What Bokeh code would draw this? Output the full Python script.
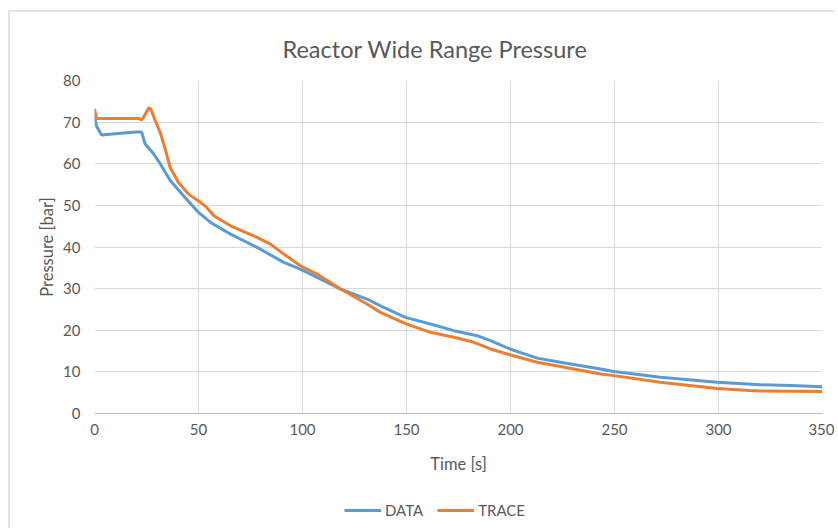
from bokeh.plotting import figure
from bokeh.layouts import column
from bokeh.models import Range1d, Legend, LegendItem, FixedTicker, Title
from bokeh.embed import file_html
from bokeh.resources import INLINE

# DATA series (time [s], pressure [bar])
data_t = [0, 1, 3.4, 10, 20, 22.7, 24.3, 28.4, 31.6, 36.4, 42.8, 50, 55.8, 65.4,
          78.2, 91, 99, 110.2, 118.3, 131, 139, 149.5, 161.5, 172.8, 184, 190.4,
          199.7, 212.8, 224, 243.3, 249.7, 272, 299.4, 320.2, 334.6, 350]
data_p = [71.5, 69.0, 66.9, 67.2, 67.6, 67.6, 64.8, 62.4, 60.0, 56.0, 52.3, 48.3,
          45.9, 43.1, 39.9, 36.3, 34.7, 31.9, 29.9, 27.5, 25.5, 23.1, 21.5, 19.9,
          18.7, 17.5, 15.5, 13.3, 12.3, 10.7, 10.1, 8.7, 7.5, 6.9, 6.7, 6.4]

# TRACE series
trace_t = [0, 1, 10, 21.2, 22.7, 24, 26, 27, 29.2, 31.6, 34, 36.4, 40.4, 45.2,
           51.6, 54, 57.4, 65.4, 78.2, 84.6, 91, 99, 107, 118.3, 131, 137.5,
           149.5, 161.5, 172.8, 182.4, 190.4, 199.7, 212.8, 224, 243.3, 249.7,
           272, 299.4, 315, 320, 350]
trace_p = [73.2, 70.9, 70.9, 70.9, 70.5, 71.5, 73.4, 73.2, 70.4, 67.5, 63.5, 59.1,
           55.5, 52.7, 50.5, 49.5, 47.5, 45.1, 42.3, 40.7, 38.3, 35.5, 33.5, 29.9,
           26.3, 24.3, 21.6, 19.5, 18.3, 17.1, 15.5, 14.1, 12.3, 11.3, 9.5, 9.1,
           7.5, 6.0, 5.5, 5.4, 5.3]

series_names = ["DATA", "TRACE"]
series_colors = ["#5B9BD5", "#ED7D31"]

x_ticks = [0, 50, 100, 150, 200, 250, 300, 350]
y_ticks = [0, 10, 20, 30, 40, 50, 60, 70, 80]

FONT = "Lato"
GREY = "#595959"

p = figure(frame_width=728, frame_height=333, output_backend="svg",
           toolbar_location=None,
           x_range=Range1d(0, 350), y_range=Range1d(0, 80),
           min_border_left=84, min_border_right=12, min_border_top=68,
           min_border_bottom=75)

p.title = Title(text="Reactor Wide Range Pressure", align="left",
                text_font=FONT, text_font_size="23.5px", text_font_style="normal",
                text_color=GREY, offset=188, standoff=36)

p.outline_line_color = None
p.background_fill_color = "white"
p.border_fill_color = "white"

for ax in (p.xaxis[0], p.yaxis[0]):
    ax.major_tick_line_color = None
    ax.minor_tick_line_color = None
    ax.major_tick_out = 0
    ax.major_tick_in = 0
    ax.major_label_text_font = FONT
    ax.major_label_text_font_size = "15px"
    ax.major_label_text_color = GREY
    ax.axis_label_text_font = FONT
    ax.axis_label_text_font_size = "16.5px"
    ax.axis_label_text_font_style = "normal"
    ax.axis_label_text_color = GREY

p.xaxis.ticker = FixedTicker(ticks=x_ticks)
p.yaxis.ticker = FixedTicker(ticks=y_ticks)
p.xaxis.axis_label = "Time [s]"
p.yaxis.axis_label = "Pressure [bar]"
p.xaxis.axis_line_color = "#bfbfbf"
p.yaxis.axis_line_color = None
p.xaxis.major_label_standoff = 10
p.xaxis.axis_label_standoff = 16
p.yaxis.major_label_standoff = 14
p.yaxis.axis_label_standoff = 3

p.xgrid.ticker = FixedTicker(ticks=x_ticks)
p.ygrid.ticker = FixedTicker(ticks=y_ticks)
p.grid.grid_line_color = "#d9d9d9"
p.grid.grid_line_width = 1

series = [(data_t, data_p), (trace_t, trace_p)]
for (t, v), col in zip(series, series_colors):
    p.line(t, v, line_color=col, line_width=3)

# Legend strip below the chart (its own renderers lie outside its view)
leg = figure(width=824, height=40, output_backend="svg", toolbar_location=None,
             x_range=Range1d(0, 1), y_range=Range1d(0, 1),
             min_border_left=0, min_border_right=0, min_border_top=0,
             min_border_bottom=0)
leg.axis.visible = False
leg.grid.visible = False
leg.outline_line_color = None
leg.background_fill_color = "white"
leg.border_fill_color = "white"
items = []
for name, col, (t, v) in zip(series_names, series_colors, series):
    r = leg.line(t, v, line_color=col, line_width=3)
    items.append(LegendItem(label=name, renderers=[r]))

legend = Legend(items=items, orientation="horizontal", location=(250, 9),
                border_line_color=None, background_fill_alpha=0,
                label_text_font=FONT, label_text_font_size="15px",
                label_text_color=GREY, glyph_width=37, glyph_height=16,
                label_standoff=4, spacing=14, padding=2, margin=0)
leg.add_layout(legend, "center")

layout = column(p, leg, spacing=0)
layout.styles = {"margin-left": "8px", "margin-top": "10px",
                 "border-left": "2px solid #e3e3e3",
                 "border-top": "2px solid #e3e3e3"}

open("out.html", "w").write(file_html(layout, INLINE))
